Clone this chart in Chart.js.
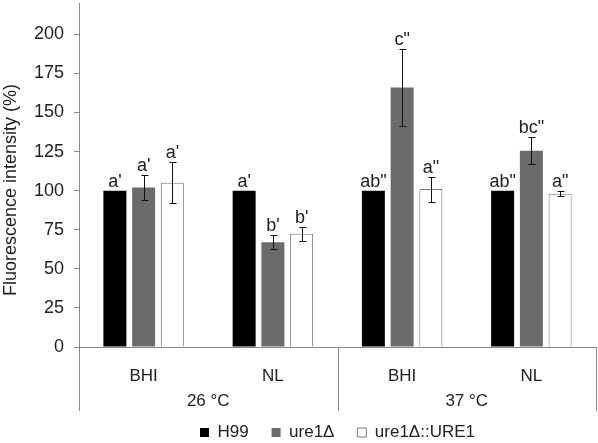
<!DOCTYPE html>
<html>
<head>
<meta charset="utf-8">
<style>
  html,body{margin:0;padding:0;background:#fff}
  #wrap{width:598px;height:443px}
</style>
<script src="https://cdn.jsdelivr.net/npm/chart.js@4"></script>
</head>
<body>
<div id="wrap"><canvas id="c"></canvas></div>
<script>
// ---- data ----
const categories = ['BHI', 'NL', 'BHI', 'NL'];
const groups = ['26 °C', '37 °C'];
const yTicks = [0, 25, 50, 75, 100, 125, 150, 175, 200];

const h99      = [100, 100, 100, 100];
const h99Err   = [0, 0, 0, 0];
const ure1     = [102, 67, 166, 125.5];
const ure1Err  = [8, 4.5, 24.5, 8.5];
const compl    = [105, 72.5, 101, 98];
const complErr = [13, 4.5, 8, 1.5];

const h99Letters   = ["a'", "a'", 'ab"', 'ab"'];
const ure1Letters  = ["a'", "b'", 'c"', 'bc"'];
const complLetters = ["a'", "b'", 'a"', 'a"'];

// ---- style ----
const FONT = "'Liberation Sans', Arial, sans-serif";
const TXT = '#222';
const AXIS = '#8a8a8a';

// error bars, letters, two-level category axis
const extras = {
  id: 'extras',
  afterDatasetsDraw(chart) {
    const { ctx, scales: { y } } = chart;
    ctx.save();
    ctx.font = `18px ${FONT}`;
    ctx.fillStyle = TXT;
    ctx.textAlign = 'center';
    ctx.textBaseline = 'alphabetic';
    chart.data.datasets.forEach((ds, i) => {
      chart.getDatasetMeta(i).data.forEach((bar, j) => {
        const v = ds.data[j], e = ds.err[j];
        const cx = Math.round(bar.x) + 0.5;
        if (e > 0) {
          const yt = Math.round(y.getPixelForValue(v + e)) + 0.5;
          const yb = Math.round(y.getPixelForValue(v - e)) + 0.5;
          ctx.strokeStyle = '#111';
          ctx.lineWidth = 1;
          ctx.beginPath();
          ctx.moveTo(cx, yt); ctx.lineTo(cx, yb);
          ctx.moveTo(cx - 3, yt); ctx.lineTo(cx + 4, yt);
          ctx.moveTo(cx - 3, yb); ctx.lineTo(cx + 4, yb);
          ctx.stroke();
        }
        ctx.fillText(ds.letters[j], bar.x, y.getPixelForValue(v + e) - 4);
      });
    });
    ctx.restore();
  },
  afterDraw(chart) {
    const { ctx, chartArea: a, scales: { x } } = chart;
    const low = a.bottom + 64;
    const mid = (x.getPixelForValue(1) + x.getPixelForValue(2)) / 2;
    const edges = [a.left, mid, a.right];
    ctx.save();
    ctx.strokeStyle = AXIS;
    ctx.lineWidth = 1;
    ctx.beginPath();
    edges.forEach(px => {
      const p = Math.round(px) + 0.5;
      ctx.moveTo(p, a.bottom); ctx.lineTo(p, low);
    });
    ctx.stroke();
    ctx.font = `17px ${FONT}`;
    ctx.fillStyle = TXT;
    ctx.textAlign = 'center';
    ctx.textBaseline = 'middle';
    groups.forEach((g, k) => ctx.fillText(g, (edges[k] + edges[k + 1]) / 2, a.bottom + 54));
    ctx.restore();
  }
};

new Chart(document.getElementById('c'), {
  type: 'bar',
  data: {
    labels: categories,
    datasets: [
      { label: 'H99', data: h99, err: h99Err, letters: h99Letters,
        backgroundColor: '#000', borderColor: '#000', borderWidth: 0 },
      { label: 'ure1Δ', data: ure1, err: ure1Err, letters: ure1Letters,
        backgroundColor: '#6b6b6b', borderColor: '#6b6b6b', borderWidth: 0 },
      { label: 'ure1Δ::URE1', data: compl, err: complErr, letters: complLetters,
        backgroundColor: '#fff', borderColor: '#7a7a7a', borderWidth: 1 }
    ]
  },
  options: {
    responsive: true,
    maintainAspectRatio: false,
    animation: false,
    devicePixelRatio: 1,
    categoryPercentage: 0.667,
    barPercentage: 0.8,
    layout: { padding: { left: 0, right: 2, top: 3, bottom: -8 } },
    scales: {
      x: {
        grid: { display: false },
        border: { display: true, color: AXIS },
        ticks: { color: TXT, font: { family: FONT, size: 17 }, padding: 11, maxRotation: 0 },
        afterFit(s) { s.height = 73; s.paddingLeft = 0; s.paddingRight = 0; }
      },
      y: {
        min: 0, max: 220,
        grid: { drawOnChartArea: false, drawTicks: true, tickLength: 5, color: AXIS },
        border: { display: true, color: AXIS },
        ticks: { stepSize: 25, color: TXT, font: { family: FONT, size: 18 }, padding: 10 },
        afterBuildTicks(s) { s.ticks = yTicks.map(v => ({ value: v })); },
        title: {
          display: true,
          text: 'Fluorescence intensity (%)' + ' '.repeat(6),
          color: TXT, font: { family: FONT, size: 18 }, padding: 0
        },
        afterFit(s) { s.width = 79; s.paddingTop = 0; s.paddingBottom = 0; }
      }
    },
    plugins: {
      legend: {
        position: 'bottom',
        fullSize: false,
        labels: {
          color: TXT,
          font: { family: FONT, size: 17, lineHeight: 1 },
          boxWidth: 9, boxHeight: 9, padding: 4,
          generateLabels(chart) {
            const items = Chart.defaults.plugins.legend.labels.generateLabels(chart);
            items.forEach((it, i) => { if (i < items.length - 1) it.text += '    '; });
            return items;
          }
        }
      },
      tooltip: { enabled: false }
    }
  },
  plugins: [extras]
});
</script>
</body>
</html>
